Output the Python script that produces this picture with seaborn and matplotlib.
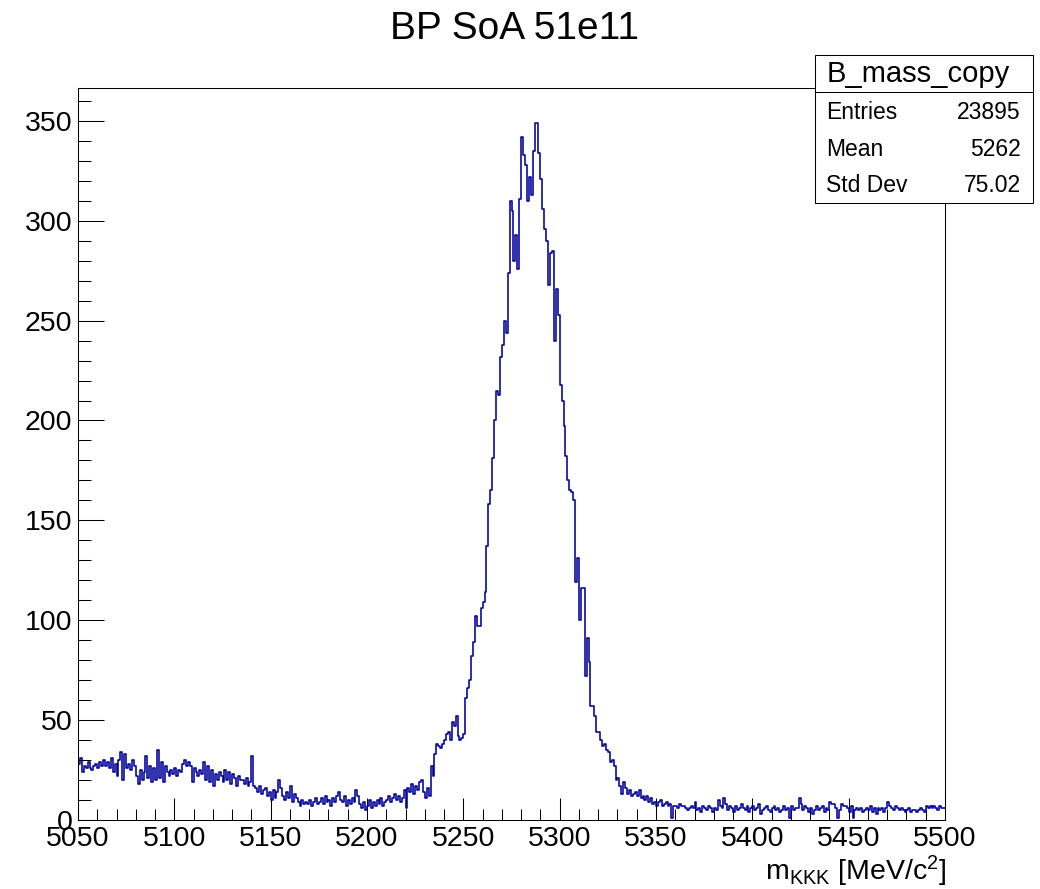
import numpy as np
import pandas as pd
import matplotlib
matplotlib.use("Agg")
import matplotlib.pyplot as plt
from matplotlib.ticker import MultipleLocator
from matplotlib.patches import Rectangle
from matplotlib.lines import Line2D
import seaborn as sns

# ---------------- data ----------------
x_low = 5050
x_high = 5500
bin_width = 1

# counts per 1 MeV bin
counts_5050_5139 = [28, 31, 24, 27, 26, 29,
                    26, 25, 27, 28, 26, 29, 27,
                    30, 27, 29, 26, 31, 24, 28, 22, 30,
                    34, 20, 33, 26,
                    28, 25, 30, 27,
                    22, 18, 25, 20, 24,
                    32, 21,
                    27, 19, 26, 20,
                    35, 21,
                    29, 19, 27,
                    24, 22, 25,
                    23, 26, 22, 25, 24,
                    28, 30, 27, 29,
                    27, 19, 26,
                    24, 22, 25, 23,
                    29, 20, 27, 19,
                    25, 17, 23, 20, 24,
                    22, 19, 25, 20,
                    24, 18, 23, 21, 17, 22, 20,
                    20, 18, 21, 17, 19]
counts_5140_5236 = [32, 17,
                    16, 14, 17, 13, 15, 16, 12, 14,
                    10,
                    15, 11, 14,
                    20, 16,
                    12, 10, 14, 11,
                    17, 9, 13, 11,
                    9, 7, 10, 8, 9,
                    8, 10, 7, 9, 11, 8, 9,
                    11, 8, 12, 9, 10, 7, 11, 9, 12,
                    14, 10,
                    9, 12, 7, 10, 8, 11, 9,
                    15, 12,
                    8, 6, 9, 5, 7, 10, 6,
                    9, 7, 10, 8, 11, 7, 9,
                    10, 12, 9, 11, 13, 10, 12, 9, 11,
                    15, 6,
                    16, 14, 18, 13, 17, 15, 19,
                    20,
                    14, 11, 16, 12,
                    27, 22,
                    33, 38]
counts_5237_5323 = [37, 36, 38, 40, 43, 44, 40, 49, 47, 52,
                    42, 40, 41, 43, 61, 66, 70, 82, 89, 102,
                    97, 97, 106, 109, 114, 137, 158, 165, 181, 200,
                    215, 213, 232, 238, 250, 244, 274, 310, 305, 280,
                    293, 276, 311, 342, 333, 328, 310, 322, 313, 335,
                    349, 349, 334, 321, 306, 296, 290, 268, 284, 285,
                    240, 266, 253, 218, 210, 197, 182, 170, 165, 164,
                    160, 119, 131, 100, 116, 116, 72, 91, 79, 57,
                    57, 52, 44, 44, 40, 37, 38]
counts_5324_5413 = [35, 34, 29, 30, 27, 20, 21, 17, 13, 19,
                    16, 13, 15, 12, 13, 14, 12, 15, 11, 12,
                    10, 12, 9, 11, 8, 9, 7, 9, 10, 7,
                    8, 9, 7, 8, 1, 7, 7, 6, 8, 7,
                    7, 6, 5, 6, 7, 6, 9, 5, 6, 4,
                    7, 6, 5, 7, 6, 4, 6, 5, 10, 7,
                    6, 11, 8, 5, 7, 6, 4, 7, 5, 6,
                    8, 6, 5, 7, 4, 6, 7, 5, 6, 8,
                    3, 5, 6, 7, 5, 4, 6, 7, 5, 6]
counts_5414_5499 = [4, 5, 7, 5, 6, 1, 7, 5, 6, 6,
                    11, 8, 5, 7, 6, 4, 6, 3, 5, 7,
                    5, 6, 7, 4, 6, 5, 9, 8, 8, 6,
                    1, 5, 8, 7, 7, 6, 4, 7, 1, 5,
                    6, 5, 6, 4, 5, 6, 5, 7, 4, 6,
                    3, 6, 5, 6, 4, 6, 9, 7, 6, 5,
                    7, 6, 5, 6, 5, 4, 5, 6, 4, 5,
                    5, 4, 5, 6, 5, 4, 7, 6, 7, 6,
                    7, 6, 5, 7, 6, 6]

title_text = "BP SoA 51e11"
stats_title = "B_mass_copy"
stats_labels = ["Entries", "Mean", "Std Dev"]
stats_values = ["23895", "5262", "75.02"]
x_label = r"m$_{\mathrm{KKK}}$ [MeV/c$^{2}$]"

counts = np.array(counts_5050_5139 + counts_5140_5236 + counts_5237_5323
                  + counts_5324_5413 + counts_5414_5499, dtype=float)
n_bins = int(round((x_high - x_low) / bin_width))
centers = x_low + bin_width * (np.arange(n_bins) + 0.5)
assert len(counts) == n_bins, (len(counts), n_bins)
df = pd.DataFrame({"mass": centers, "count": counts})

# ---------------- style ----------------
sns.set_style("white")
plt.rcParams["font.family"] = ["Liberation Sans", "DejaVu Sans"]
plt.rcParams["mathtext.fontset"] = "custom"
plt.rcParams["mathtext.rm"] = "Liberation Sans"
plt.rcParams["mathtext.it"] = "Liberation Sans:italic"
plt.rcParams["text.color"] = "black"

W, H = 1040, 889
fig = plt.figure(figsize=(W / 100, H / 100), dpi=100)
L, R, T, B = 78, 945, 88, 820
ax = fig.add_axes([L / W, 1 - B / H, (R - L) / W, (B - T) / H])

line_color = "#000099"
sns.histplot(data=df, x="mass", weights="count", bins=n_bins, binrange=(x_low, x_high),
             element="step", fill=False, color=line_color, linewidth=1.15, ax=ax)

ax.set_xlim(x_low, x_high)
ax.set_ylim(0, counts.max() * 1.05)
ax.set_xlabel("")
ax.set_ylabel("")

ax.xaxis.set_major_locator(MultipleLocator(50))
ax.xaxis.set_minor_locator(MultipleLocator(10))
ax.yaxis.set_major_locator(MultipleLocator(50))
ax.yaxis.set_minor_locator(MultipleLocator(10))

ax.tick_params(axis="x", which="major", direction="in", length=15.8, width=0.75,
               top=False, bottom=True, labelsize=20.5, pad=4, colors="black")
ax.tick_params(axis="x", which="minor", direction="in", length=7.9, width=0.75,
               top=False, bottom=True, colors="black")
ax.tick_params(axis="y", which="major", direction="in", length=18.7, width=0.75,
               right=False, left=True, labelsize=20.5, pad=4, colors="black")
ax.tick_params(axis="y", which="minor", direction="in", length=9.4, width=0.75,
               right=False, left=True, colors="black")
for s in ax.spines.values():
    s.set_color("black")
    s.set_linewidth(0.75)
    s.set_visible(True)

def fx(px):
    return px / W

def fy(py):
    return 1 - py / H

# title
fig.text(fx(514), fy(39), title_text, ha="center", va="baseline", fontsize=28, color="black")

# x label
fig.text(fx(946), fy(880), x_label, ha="right", va="baseline", fontsize=20.5, color="black")

# stats box
bx0, by0, bx1, by1 = 815, 55, 1033, 203
fig.add_artist(Rectangle((fx(bx0), fy(by1)), fx(bx1) - fx(bx0), fy(by0) - fy(by1),
                         transform=fig.transFigure, facecolor="white",
                         edgecolor="black", linewidth=0.75, zorder=5))
fig.add_artist(Line2D([fx(bx0), fx(bx1)], [fy(92), fy(92)], transform=fig.transFigure,
                      color="black", linewidth=0.75, zorder=6))
fig.text(fx(918), fy(82.5), stats_title, ha="center", va="baseline", fontsize=21,
         zorder=7, color="black")
for lab, val, base in zip(stats_labels, stats_values, [119, 155.5, 192]):
    fig.text(fx(826), fy(base), lab, ha="left", va="baseline", fontsize=16.5,
             zorder=7, color="black")
    fig.text(fx(1021), fy(base), val, ha="right", va="baseline", fontsize=16.5,
             zorder=7, color="black")

fig.savefig("out.png", dpi=100, facecolor="white")
